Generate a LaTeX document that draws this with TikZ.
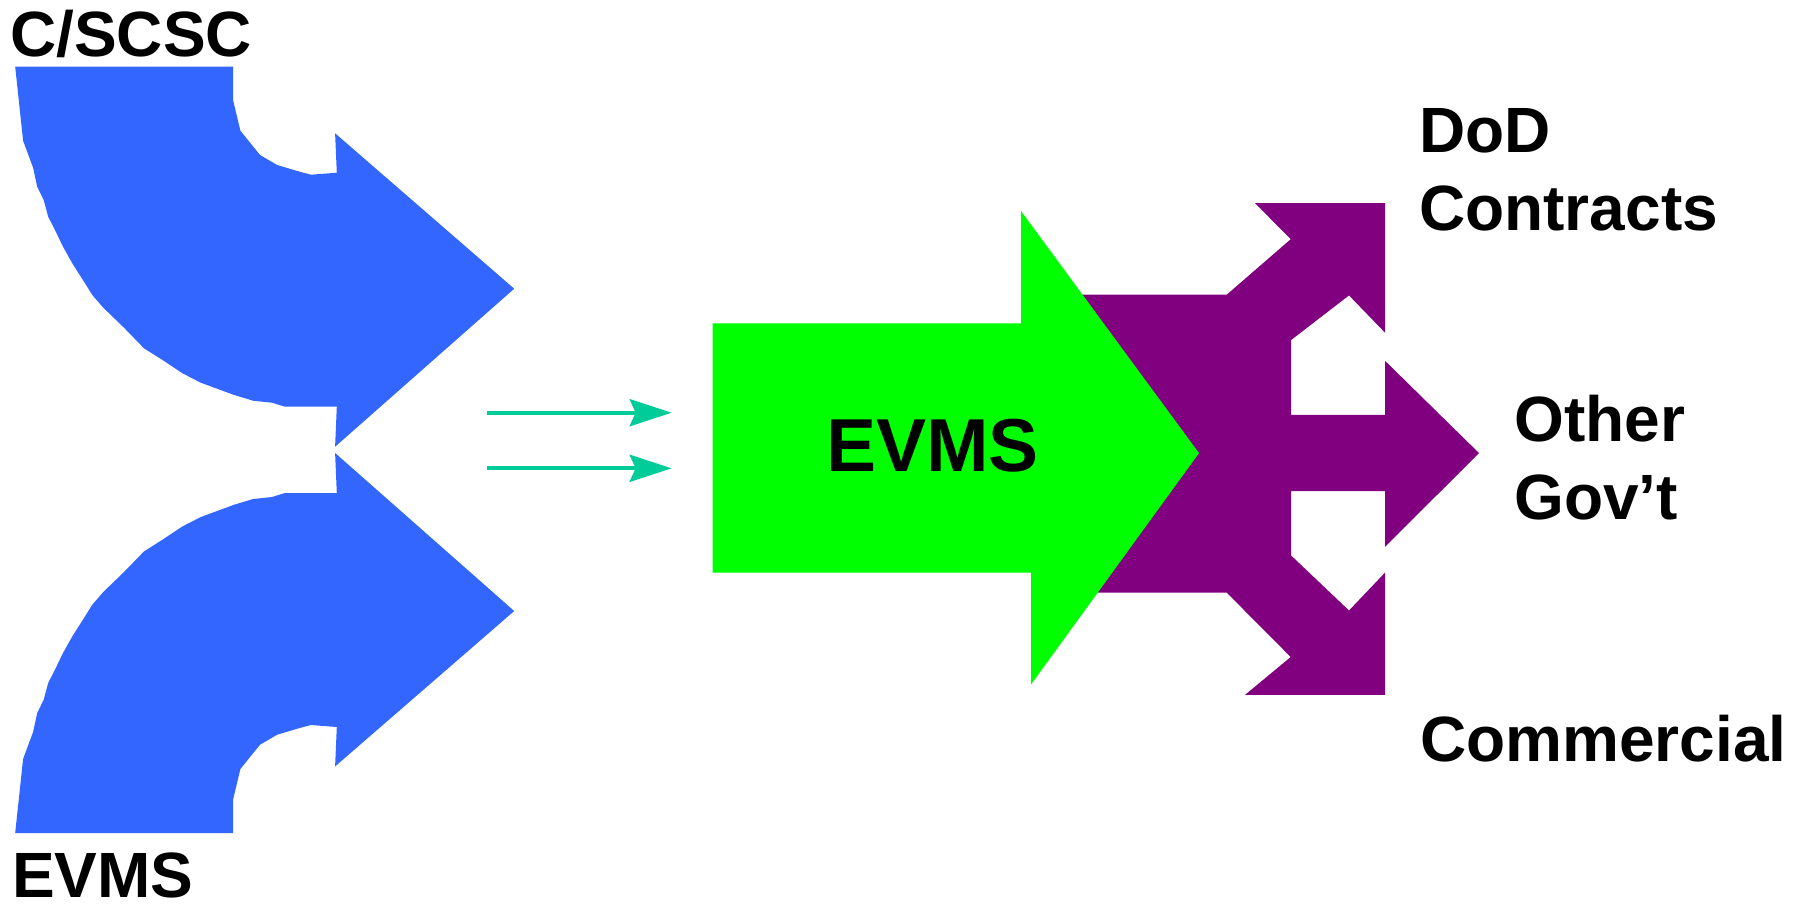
\documentclass[tikz,border=0pt]{standalone}
\usepackage{fontspec}
\setmainfont{Liberation Sans}
\usetikzlibrary{arrows.meta}
\definecolor{evblue}{RGB}{51,102,255}
\definecolor{evgreen}{RGB}{0,255,0}
\definecolor{evpurple}{RGB}{128,0,128}
\definecolor{evteal}{RGB}{0,204,153}
\tikzset{
  label/.style={inner sep=0pt, anchor=base west, font=\fontsize{64}{64}\selectfont\bfseries},
  biglabel/.style={inner sep=0pt, anchor=base west, font=\fontsize{75}{75}\selectfont\bfseries},
  flow/.style={draw=evteal, line width=4pt, -{Stealth[length=42pt,width=27pt,inset=6pt]}},
}
\def\bluearrowpath{(15.2,66.7) -- (233.2,66.7) -- (233.2,100.7) -- (240.4,130.7) -- (260,155) -- (277.2,165) -- (299.6,171.7) -- (311,174.7) -- (336.8,172.7) -- (335.1,133.3) -- (514.2,288.7) -- (335.1,446.7) -- (336.8,406.7) -- (284.8,406.7) -- (272.1,402.7) -- (253.1,400.7) -- (234.2,395) -- (200.8,382.7) -- (182.5,373.3) -- (163.6,360.7) -- (144,348.3) -- (124,327.7) -- (103.3,307.7) -- (92.3,295) -- (84.4,282.3) -- (72.3,263.3) -- (63,246.7) -- (55.8,231.7) -- (48.2,216.7) -- (43.7,200) -- (37.2,186.7) -- (33.1,167.7) -- (23.1,140.7) -- cycle}
\begin{document}
\begin{tikzpicture}[x=1pt,y=-1pt]
\useasboundingbox (0,0) rectangle (1803,906);
% blue curved arrows
\fill[evblue] \bluearrowpath;
\begin{scope}[shift={(0,899.7)},yscale=-1]
\fill[evblue] \bluearrowpath;
\end{scope}
% purple branching arrow
\fill[evpurple] (1060,294.7) -- (1226.7,294.7) -- (1290.7,239.2) -- (1255,203.1) -- (1385,203.1) -- (1385,332.6) -- (1349,295.4) -- (1291,340.1) -- (1291,414.9) -- (1385,414.9) -- (1385,360.8) -- (1479,453.1) -- (1385,546.8) -- (1385,491) -- (1291,491) -- (1291,555.4) -- (1349,610.5) -- (1385,572.6) -- (1385,694.9) -- (1245,694.9) -- (1290.7,657) -- (1226.7,592.6) -- (1060,592.6) -- cycle;
% green arrow
\fill[evgreen] (712.7,323.3) -- (1021,323.3) -- (1021,211) -- (1199,453.1) -- (1031,684.5) -- (1031,572.6) -- (712.7,572.6) -- cycle;
% small arrows
\coordinate (a1s) at (486.7,412.7);
\coordinate (a1e) at (671.7,412.7);
\coordinate (a2s) at (486.7,468.3);
\coordinate (a2e) at (671.7,468.3);
\draw[flow] (a1s) -- (a1e);
\draw[flow] (a2s) -- (a2e);
% labels
\node[label] (cscsc) at (10,56) {C/SCSC};
\node[label] (evmsb) at (12,897) {EVMS};
\node[biglabel] (evmsg) at (826,471) {EVMS};
\node[label] (dod) at (1419,152) {DoD};
\node[label] (contr) at (1419,230) {Contracts};
\node[label] (other) at (1514,441) {Other};
\node[label] (gov) at (1514,519) {Gov’t};
\node[label] (comm) at (1420,761) {Commercial};
\end{tikzpicture}
\end{document}
